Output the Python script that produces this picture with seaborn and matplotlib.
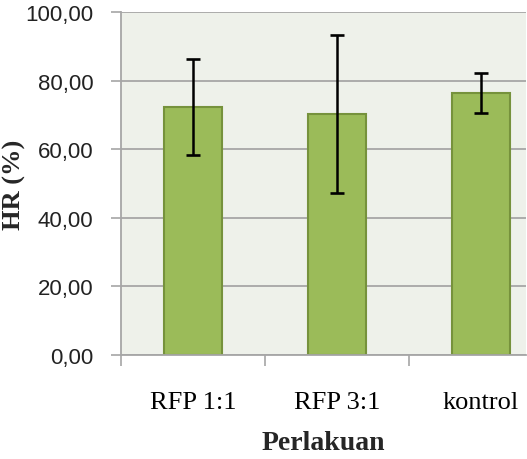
import matplotlib
matplotlib.use("Agg")
import matplotlib.pyplot as plt
import seaborn as sns
import pandas as pd
import numpy as np

categories = ["RFP 1:1", "RFP 3:1", "kontrol"]
hr_mean = [72.3, 70.3, 76.3]
hr_err = [14.0, 23.0, 5.8]
y_ticks = [0, 20, 40, 60, 80, 100]
y_tick_labels = ["0,00", "20,00", "40,00", "60,00", "80,00", "100,00"]

df = pd.DataFrame({"Perlakuan": categories, "HR": hr_mean})

sns.set_theme(style="white")
plt.rcParams["font.family"] = ["Liberation Sans", "DejaVu Sans"]

fig = plt.figure(figsize=(5.27, 4.60), dpi=100)
ax = fig.add_axes([121 / 527, 1 - 356 / 460, (526 - 121) / 527, (356 - 13) / 460])
ax.set_facecolor("#EEF1EA")

sns.barplot(data=df, x="Perlakuan", y="HR", ax=ax, width=0.4,
            color="#9BBB59", edgecolor="#76923C", linewidth=1.5, saturation=1)

ax.errorbar(np.arange(len(categories)), hr_mean, yerr=hr_err, fmt="none",
            ecolor="black", elinewidth=1.8, capsize=5, capthick=1.9, zorder=5)

ax.set_ylim(0, 100)
ax.set_xlim(-0.5, 2 + (526 - 481) / 144)
ax.set_yticks(y_ticks)
ax.set_yticklabels(y_tick_labels, fontsize=16, color="#222222")
ax.yaxis.grid(True, color="#A6A6A6", linewidth=1.3)
ax.set_axisbelow(True)

ax.set_xticks(np.arange(len(categories)))
ax.set_xticklabels(categories, family=["Liberation Serif", "DejaVu Serif"], fontsize=19, color="black")
ax.set_xticks([-0.5, 0.5, 1.5], minor=True)
ax.tick_params(axis="x", which="major", length=0, pad=26)
ax.tick_params(axis="x", which="minor", length=8, width=1.2, color="#A6A6A6", direction="out", bottom=True)
ax.tick_params(axis="y", which="major", length=7, width=1.2, color="#A6A6A6", direction="out", left=True, pad=13)

for side in ["top", "right"]:
    ax.spines[side].set_visible(False)
for side in ["left", "bottom"]:
    ax.spines[side].set_color("#A6A6A6")
    ax.spines[side].set_linewidth(1.3)

ax.set_xlabel("Perlakuan", family=["Liberation Serif", "DejaVu Serif"], fontweight="bold", fontsize=20, labelpad=12)
ax.set_ylabel("HR (%)", family=["Liberation Serif", "DejaVu Serif"], fontweight="bold", fontsize=19)
ax.yaxis.set_label_coords((26 - 121) / 405, 0.5)

fig.savefig("out.png", dpi=100, facecolor="white")
